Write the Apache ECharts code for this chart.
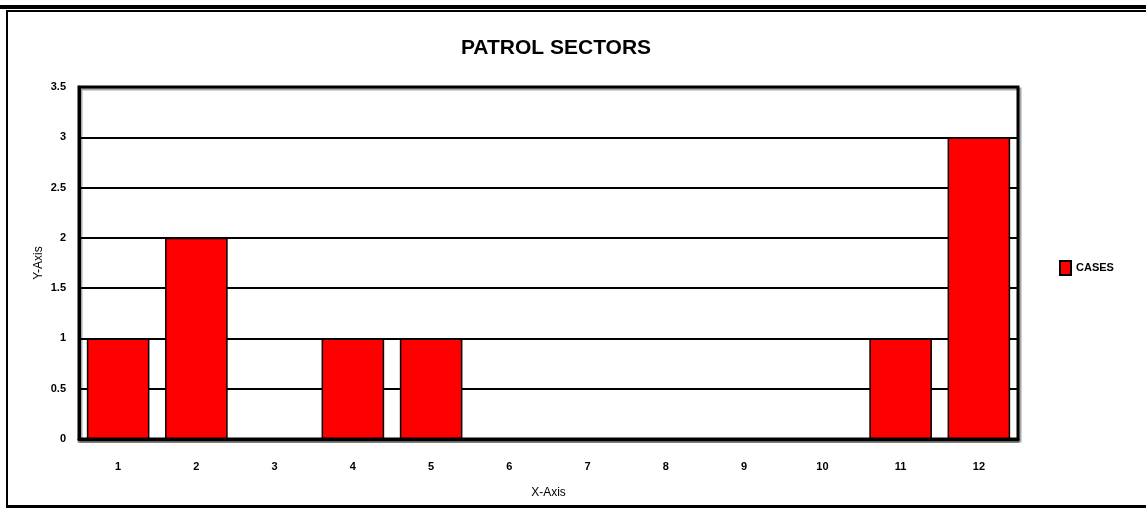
<!DOCTYPE html>
<html>
<head>
<meta charset="utf-8">
<script src="https://cdn.jsdelivr.net/npm/echarts@6/dist/echarts.min.js"></script>
<style>
  html, body { margin: 0; padding: 0; background: #fff; }
  #patrolChart { width: 1146px; height: 510px; }
</style>
</head>
<body>
<div id="patrolChart"></div>
<script>
// data
const sectors = ['1', '2', '3', '4', '5', '6', '7', '8', '9', '10', '11', '12'];
const cases = [1, 2, 0, 1, 1, 0, 0, 0, 0, 0, 1, 3];

const chart = echarts.init(document.getElementById('patrolChart'));

const tickFont = {
  color: '#000',
  fontFamily: 'Liberation Sans',
  fontSize: 11,
  fontWeight: 'bold'
};

chart.setOption({
  backgroundColor: '#fff',
  animation: false,
  title: {
    text: 'PATROL SECTORS',
    left: 551,
    top: 33,
    textAlign: 'center',
    textStyle: {
      color: '#000',
      fontFamily: 'Liberation Sans',
      fontSize: 21,
      fontWeight: 'bold'
    }
  },
  legend: {
    data: ['CASES'],
    left: 1054,
    top: 255,
    orient: 'vertical',
    icon: 'rect',
    itemWidth: 11,
    itemHeight: 14,
    itemGap: 6,
    textStyle: tickFont
  },
  grid: {
    left: 79,
    top: 87,
    right: 128,
    bottom: 71,
    show: true,
    borderColor: '#000',
    borderWidth: 3,
    shadowColor: 'rgba(0,0,0,0.35)',
    shadowOffsetX: 2,
    shadowOffsetY: 2
  },
  xAxis: {
    type: 'category',
    data: sectors,
    name: 'X-Axis',
    nameLocation: 'middle',
    nameGap: 48,
    nameTextStyle: {
      color: '#000',
      fontFamily: 'Liberation Sans',
      fontSize: 12
    },
    axisLine: {
      lineStyle: {
        color: '#000',
        width: 3,
        shadowColor: 'rgba(0,0,0,0.4)',
        shadowOffsetY: 2
      }
    },
    axisTick: { show: false },
    axisLabel: Object.assign({ margin: 22 }, tickFont)
  },
  yAxis: {
    type: 'value',
    min: 0,
    max: 3.5,
    interval: 0.5,
    name: 'Y-Axis',
    nameLocation: 'middle',
    nameGap: 34,
    nameMoveOverlap: false,
    nameTextStyle: {
      color: '#000',
      fontFamily: 'Liberation Sans',
      fontSize: 12
    },
    axisLine: { show: true, lineStyle: { color: '#000', width: 3 } },
    axisTick: { show: false },
    axisLabel: Object.assign({ margin: 13 }, tickFont),
    splitLine: { lineStyle: { color: '#000', width: 2 } }
  },
  series: [{
    name: 'CASES',
    type: 'bar',
    data: cases,
    barCategoryGap: '20%',
    itemStyle: {
      color: '#ff0000',
      borderColor: '#000',
      borderWidth: 1.5
    }
  }],
  graphic: [
    // outer frame of the picture
    { type: 'rect', shape: { x: 0, y: 5, width: 1146, height: 4 }, style: { fill: '#000' }, silent: true },
    { type: 'rect', shape: { x: 6, y: 10, width: 1140, height: 2 }, style: { fill: '#000' }, silent: true },
    { type: 'rect', shape: { x: 6, y: 10, width: 2, height: 497 }, style: { fill: '#000' }, silent: true },
    { type: 'rect', shape: { x: 6, y: 505, width: 1140, height: 3 }, style: { fill: '#000' }, silent: true }
  ]
});
</script>
</body>
</html>
